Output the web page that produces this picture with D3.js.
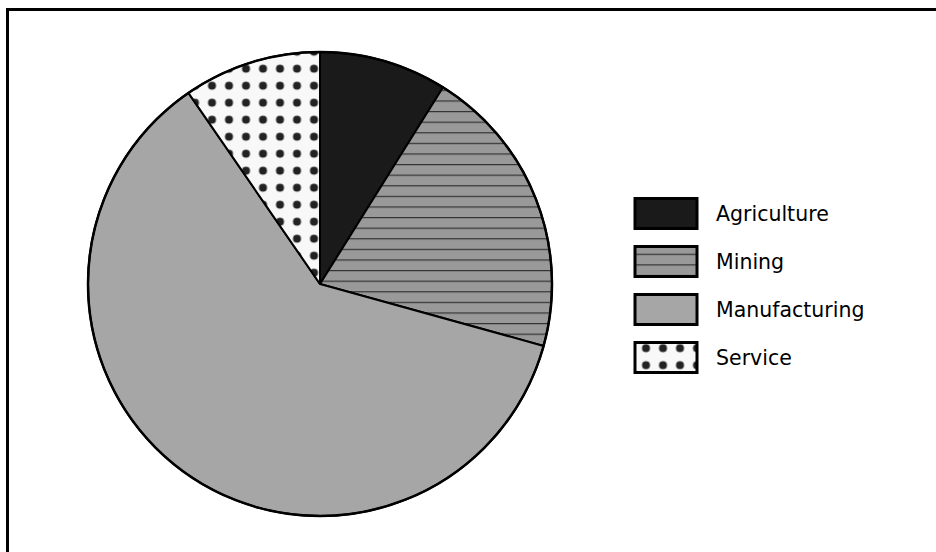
<!DOCTYPE html>
<html><head><meta charset="utf-8">
<script src="https://cdn.jsdelivr.net/npm/d3@7"></script>
<style>body{margin:0;background:#fff}svg{display:block}</style>
</head><body>
<svg id="c" width="936" height="552"></svg>
<script>
const categories = ["Agriculture", "Mining", "Manufacturing", "Service"];
const values = [8.9, 20.4, 61.1, 9.6];

const svg = d3.select("#c");
const defs = svg.append("defs");

// horizontal-line pattern (Mining)
const LS = 10.6;
const pl = defs.append("pattern").attr("id","lines").attr("patternUnits","userSpaceOnUse")
  .attr("x",0).attr("y",251 - LS*23).attr("width",20).attr("height",LS);
pl.append("rect").attr("width",20).attr("height",LS).attr("fill","#999999");
pl.append("rect").attr("y",0).attr("width",20).attr("height",1.2).attr("fill","#333333");

// dots pattern (Service)
const DS = 17;
const pd = defs.append("pattern").attr("id","dots").attr("patternUnits","userSpaceOnUse")
  .attr("x",317 - DS*18 - DS/2).attr("y",56.7 - DS*3 - DS/2).attr("width",DS).attr("height",DS);
pd.append("rect").attr("width",DS).attr("height",DS).attr("fill","#f8f8f8");
pd.append("circle").attr("cx",DS/2).attr("cy",DS/2).attr("r",4).attr("fill","#222222");

const fills = ["#1a1a1a","url(#lines)","#a6a6a6","url(#dots)"];
const color = d3.scaleOrdinal().domain(categories).range(fills);

// frame (only top/left visible)
svg.append("rect").attr("x",7.5).attr("y",9.5).attr("width",1000).attr("height",1000)
  .attr("fill","none").attr("stroke","#000").attr("stroke-width",3);

const cx = 320, cy = 284, r = 232;
const pie = d3.pie().sort(null).value(d => d.v);
const data = pie(categories.map((c,i)=>({c, v: values[i]})));
const arc = d3.arc().innerRadius(0).outerRadius(r);

const g = svg.append("g").attr("transform",`translate(${cx},${cy})`);
g.selectAll("path.s").data(data).enter().append("path").attr("class","s")
  .attr("d",arc).attr("fill",d=>color(d.data.c))
  .attr("stroke","#000").attr("stroke-width",2).attr("stroke-linejoin","round");
g.append("circle").attr("r",r).attr("fill","none").attr("stroke","#000").attr("stroke-width",2.5);

// legend
const lg = svg.append("g");
const rows = lg.selectAll("g").data(categories).enter().append("g")
  .attr("transform",(d,i)=>`translate(635,${198.5 + i*48})`);
rows.append("rect").attr("width",62).attr("height",30).attr("fill",d=>color(d))
  .attr("stroke","#000").attr("stroke-width",3);
rows.append("text").attr("x",81).attr("y",15).attr("dy","0.36em")
  .attr("font-family","DejaVu Sans, Verdana, sans-serif").attr("font-size",20.5)
  .attr("fill","#000").text(d=>d);
</script>
</body></html>
